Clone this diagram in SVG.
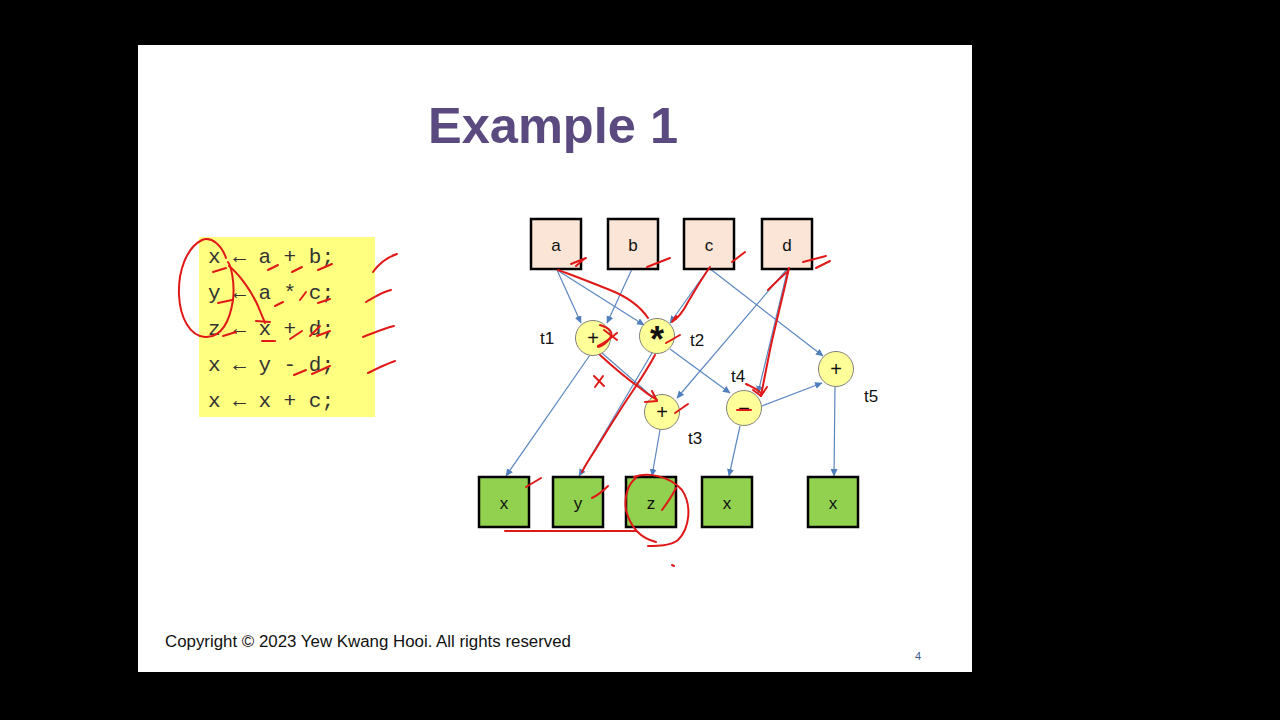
<svg xmlns="http://www.w3.org/2000/svg" width="1280" height="720" viewBox="0 0 1280 720">
<defs>
<marker id="arr" markerWidth="8" markerHeight="8" refX="7" refY="3.5" orient="auto" markerUnits="userSpaceOnUse">
<path d="M0,0 L7.5,3.5 L0,7 z" fill="#4f7fbd"/>
</marker>
<style>
.src rect{fill:#fbe5d6;stroke:#000;stroke-width:2.5}
.out rect{fill:#92d050;stroke:#000;stroke-width:2.5}
.op circle{fill:#ffff99;stroke:#808080;stroke-width:1}
.lbl{font-family:"Liberation Sans",Arial,sans-serif;font-size:17px;fill:#111;text-anchor:middle}
.tl{font-family:"Liberation Sans",Arial,sans-serif;font-size:17px;fill:#111}
.opt{font-family:"Liberation Sans",Arial,sans-serif;font-size:20px;fill:#111;text-anchor:middle}
.code{font-family:"Liberation Mono","Courier New",monospace;font-size:21px;fill:#333}
#connectors path{fill:none;stroke:#5b87c0;stroke-width:1.2;marker-end:url(#arr)}
#annot path{fill:none;stroke:#e01818;stroke-width:2;stroke-linecap:round;stroke-linejoin:round}
</style>
</defs>
<rect x="0" y="0" width="1280" height="720" fill="#000"/>
<rect x="138" y="45" width="834" height="627" fill="#fff"/>
<text x="553" y="143" font-family="Liberation Sans,Arial,sans-serif" font-weight="bold" font-size="50" fill="#5b4a80" text-anchor="middle" textLength="250" lengthAdjust="spacingAndGlyphs">Example 1</text>

<g id="code">
<rect x="199" y="237" width="176" height="180" fill="#ffff80"/>
<text class="code" x="208" y="263">x ← a + b;</text>
<text class="code" x="208" y="299">y ← a * c;</text>
<text class="code" x="208" y="335">z ← x + d;</text>
<text class="code" x="208" y="371">x ← y - d;</text>
<text class="code" x="208" y="407">x ← x + c;</text>
</g>

<g id="connectors">
<path d="M557,270 L581,323"/>
<path d="M557,270 L644,325"/>
<path d="M632,269 L607,323"/>
<path d="M709,268 L670,323"/>
<path d="M709,268 L823,356"/>
<path d="M788,268 L677,398"/>
<path d="M788,268 L758,393"/>
<path d="M602,353 L657,401"/>
<path d="M670,349 L730,393"/>
<path d="M762,406 L822,383"/>
<path d="M590,355 L506,476"/>
<path d="M652,353 L579,476"/>
<path d="M660,430 L652,476"/>
<path d="M740,426 L729,476"/>
<path d="M835,387 L834,476"/>
</g>

<g id="node-a" class="src"><rect x="531" y="219" width="50" height="50"/><text class="lbl" x="556" y="251">a</text></g>
<g id="node-b" class="src"><rect x="608" y="219" width="50" height="50"/><text class="lbl" x="633" y="251">b</text></g>
<g id="node-c" class="src"><rect x="684" y="219" width="50" height="50"/><text class="lbl" x="709" y="251">c</text></g>
<g id="node-d" class="src"><rect x="762" y="219" width="50" height="50"/><text class="lbl" x="787" y="251">d</text></g>

<g id="node-t1" class="op"><circle cx="593" cy="338" r="17.5"/><text class="opt" x="593" y="345">+</text><text class="tl" x="540" y="344">t1</text></g>
<g id="node-t2" class="op"><circle cx="657" cy="336" r="17.5"/><text class="opt" x="657" y="352" style="font-size:36px;font-weight:bold">*</text><text class="tl" x="690" y="346">t2</text></g>
<g id="node-t3" class="op"><circle cx="662" cy="412" r="17.5"/><text class="opt" x="662" y="419">+</text><text class="tl" x="688" y="444">t3</text></g>
<g id="node-t4" class="op"><circle cx="744" cy="408" r="17.5"/><text class="opt" x="744" y="415">−</text><text class="tl" x="731" y="382">t4</text></g>
<g id="node-t5" class="op"><circle cx="836" cy="369" r="17.5"/><text class="opt" x="836" y="376">+</text><text class="tl" x="864" y="402">t5</text></g>

<g id="node-x1" class="out"><rect x="479" y="477" width="50" height="50"/><text class="lbl" x="504" y="509">x</text></g>
<g id="node-y" class="out"><rect x="553" y="477" width="50" height="50"/><text class="lbl" x="578" y="509">y</text></g>
<g id="node-z" class="out"><rect x="626" y="477" width="50" height="50"/><text class="lbl" x="651" y="509">z</text></g>
<g id="node-x2" class="out"><rect x="702" y="477" width="50" height="50"/><text class="lbl" x="727" y="509">x</text></g>
<g id="node-x3" class="out"><rect x="808" y="477" width="50" height="50"/><text class="lbl" x="833" y="509">x</text></g>

<g id="annot">
<path d="M226,258 C222,246 212,236 202,240 C186,248 178,272 179,295 C180,318 190,336 205,337 C222,338 230,320 233,300 C235,282 231,266 228,262"/>
<path d="M229,266 C240,275 252,292 258,306 C262,316 264,320 265,323"/>
<path d="M256,321 L270,322"/>
<path d="M213,272 L226,268"/><path d="M218,303 L232,300"/><path d="M223,336 L236,332"/>
<path d="M268,270 L278,265"/><path d="M292,272 L302,267"/><path d="M318,270 L332,264"/>
<path d="M275,306 L283,302"/><path d="M300,300 L306,292"/><path d="M318,303 L330,299"/>
<path d="M262,341 L275,341"/>
<path d="M290,339 L302,331"/><path d="M310,336 L320,326"/><path d="M317,336 L330,331"/>
<path d="M294,375 L306,370"/><path d="M312,374 L330,366"/>
<path d="M373,272 C380,262 388,257 397,254"/>
<path d="M366,302 C376,296 385,291 391,290"/>
<path d="M363,337 C376,332 385,328 394,326"/>
<path d="M368,373 C378,368 386,364 395,361"/>
<path d="M571,264 L586,258"/><path d="M576,266 L584,259"/>
<path d="M647,267 L670,258"/>
<path d="M732,262 L745,252"/>
<path d="M803,262 L826,256"/><path d="M816,268 L830,261"/>
<path d="M558,270 C575,276 595,284 610,290 C625,296 640,306 648,318"/>
<path d="M710,267 C702,278 694,292 688,302 C683,312 678,318 672,322 L676,316"/>
<path d="M789,268 C783,296 776,322 770,350 C766,370 763,385 761,396"/>
<path d="M753,390 L761,396 L767,387"/>
<path d="M787,272 C780,278 774,284 768,290"/>
<path d="M600,325 C610,328 614,333 610,338 C606,344 602,346 598,347"/>
<path d="M604,330 L617,340"/><path d="M598,346 C606,342 611,338 617,333"/>
<path d="M600,355 C612,366 626,378 640,388 C646,393 652,397 657,400"/>
<path d="M645,402 L657,401 L652,391"/>
<path d="M655,355 C646,372 636,386 628,398 C616,416 604,436 594,452 C588,461 584,468 582,472"/>
<path d="M594,376 L604,386"/><path d="M603,376 L595,387"/>
<path d="M666,343 L680,335"/>
<path d="M675,413 L688,404"/>
<path d="M746,384 C752,387 757,389 761,393"/>
<path d="M737,410 L751,410"/>
<path d="M526,487 L541,478"/>
<path d="M592,498 C598,495 603,491 608,486"/>
<path d="M662,510 C668,502 673,494 676,488"/>
<path d="M636,478 C628,484 624,496 626,510 C630,526 640,538 656,542"/>
<path d="M634,477 C648,472 670,476 682,490 C692,505 690,528 678,540 C670,546 658,546 648,546"/>
<path d="M505,531 L636,531"/>
<path d="M672,565 L674,566"/>
</g>

<text x="165" y="647" font-family="Liberation Sans,Arial,sans-serif" font-size="16" fill="#111" textLength="406" lengthAdjust="spacingAndGlyphs">Copyright © 2023 Yew Kwang Hooi. All rights reserved</text>
<text x="918" y="660" font-family="Liberation Sans,Arial,sans-serif" font-size="11" fill="#3b5a8c" text-anchor="middle">4</text>
</svg>
